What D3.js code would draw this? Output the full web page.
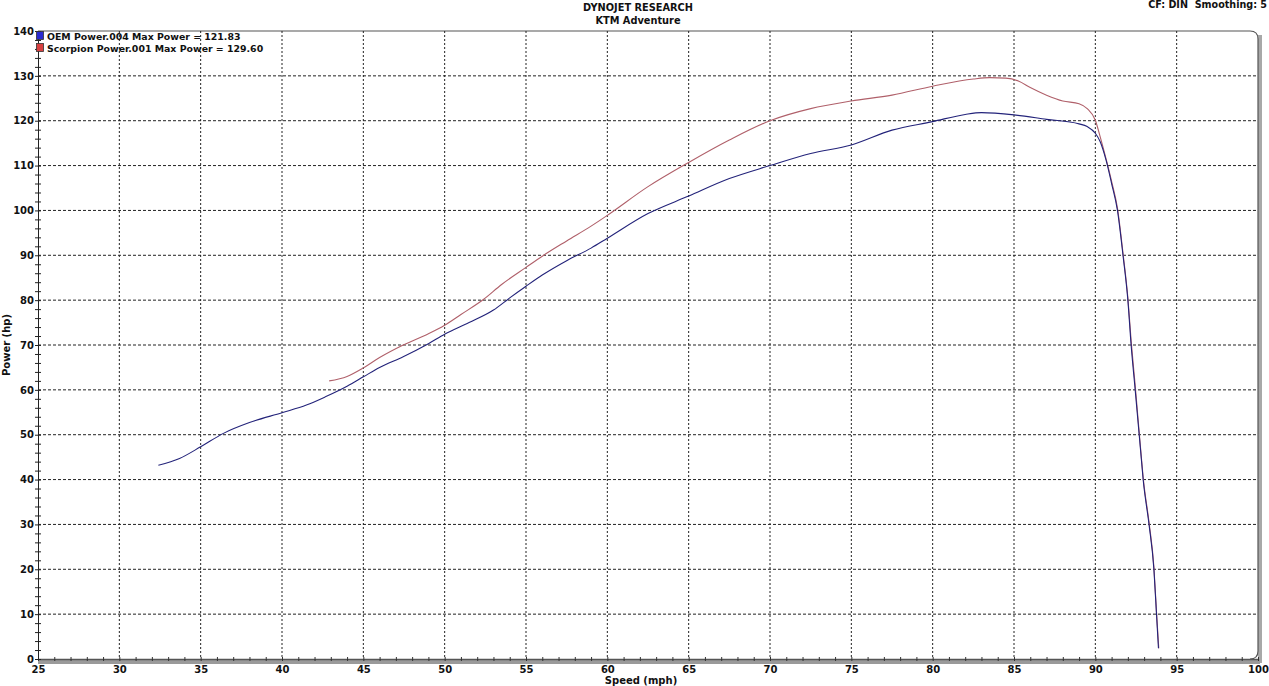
<!DOCTYPE html>
<html><head><meta charset="utf-8">
<script src="https://cdn.jsdelivr.net/npm/d3@7"></script>
<style>
html,body{margin:0;padding:0;background:#fff;}
svg{display:block;font-family:"DejaVu Sans",Verdana,sans-serif;}
text{white-space:pre;}
</style></head>
<body><svg id="c" width="1269" height="686"></svg>
<script>
const titleLines = ["DYNOJET RESEARCH", "KTM Adventure"];
const infoText = "CF: DIN  Smoothing: 5";
const xLabel = "Speed (mph)";
const yLabel = "Power (hp)";
const xTicks = [25,30,35,40,45,50,55,60,65,70,75,80,85,90,95,100];
const yTicks = [0,10,20,30,40,50,60,70,80,90,100,110,120,130,140];
const seriesNames = ["OEM Power.004 Max Power = 121.83", "Scorpion Power.001 Max Power = 129.60"];

const oemSpeed = [32.4,33.7,35,36.4,38,40,41.5,42.7,44,45,46,47.45,49,50,51.5,53,54,55,56,57.5,59,60,62.5,65,67.5,70,72.5,75,77.5,80,82,83,85,87,89,89.5,90,90.3,90.66,91.0,91.36,91.7,92.0,92.2,92.45,92.78,92.94,93.3,93.6,93.76,93.88];
const oemPower = [43.2,44.7,47.3,50.3,52.7,54.9,56.6,58.5,60.8,62.9,65.0,67.4,70.3,72.4,75.0,77.8,80.5,83.1,85.6,88.8,91.6,93.8,99.3,103.2,107.1,110,112.7,114.6,117.9,119.8,121.4,121.8,121.3,120.3,119.3,118.7,117.2,115.3,111.2,106,100,90,80,70,60,46.6,40,30,20,10,2.4];

const scorpionSpeed = [42.9,44,45,46,47.45,49,50,51,52.4,53.5,55,56,57.5,59,60,62.5,65,67.5,70,72.5,75,77.5,80,82.5,83.5,84.5,85.3,86,87,88,89,89.5,90,90.3,90.66,91.0,91.36,91.7,92.0,92.2,92.45,92.78,92.94,93.3,93.6,93.76,93.9];
const scorpionPower = [62.0,63.0,64.9,67.2,70.0,72.5,74.4,76.8,80.2,83.5,87.3,89.8,93.2,96.5,98.9,105.3,110.7,115.7,120,122.7,124.4,125.7,127.7,129.3,129.6,129.5,128.8,127.4,125.7,124.4,123.8,122.7,120.1,116.4,111.5,106.5,100.5,90.5,80.5,71,61,47,40.5,30.5,20.5,10.5,2.4];

const lineColors = ["#23237a", "#b0606a"];
const swatchColors = ["#2a2ad0", "#d84040"];

const svg = d3.select("#c");
const L = 38, R = 1258, T = 31, B = 659;
const x = d3.scaleLinear().domain([25,100]).range([L,R]);
const y = d3.scaleLinear().domain([0,140]).range([B,T]);

// titles
svg.selectAll("text.title").data(titleLines).enter().append("text")
  .attr("x", 638).attr("y", (d,i)=>11+i*13).attr("text-anchor","middle")
  .attr("font-size","9.8px").attr("font-weight","bold").attr("fill","#111").text(d=>d);
svg.append("text").attr("x",1267).attr("y",8).attr("text-anchor","end")
  .attr("font-size","9.6px").attr("font-weight","bold").attr("fill","#111").text(infoText);

// shadow on right
svg.append("rect").attr("x",R).attr("y",T+4).attr("width",4).attr("height",B-T).attr("fill","#a8a8a8");

// frame with rounded top-right corner
svg.append("path").attr("d",
  `M${L},${T} L${R-8},${T} Q${R},${T} ${R},${T+8} L${R},${B-8} Q${R},${B} ${R-8},${B}`)
  .attr("fill","none").attr("stroke","#555").attr("stroke-width",1.2);

// grid
const g = svg.append("g");
g.selectAll("line.vg").data(xTicks.filter(d=>d>25 && d<100)).enter().append("line")
  .attr("x1",d=>x(d)).attr("x2",d=>x(d)).attr("y1",T).attr("y2",B)
  .attr("stroke","#222").attr("stroke-width",1).attr("stroke-dasharray","2,2");
g.selectAll("line.hg").data(yTicks.filter(d=>d>0 && d<140)).enter().append("line")
  .attr("x1",L).attr("x2",R).attr("y1",d=>y(d)).attr("y2",d=>y(d))
  .attr("stroke","#222").attr("stroke-width",1).attr("stroke-dasharray","3,2");

// bottom bar
svg.append("rect").attr("x",L).attr("y",B).attr("width",R-L+2).attr("height",5).attr("fill","#9a9a9a");
svg.append("line").attr("x1",L).attr("x2",R).attr("y1",B+0.5).attr("y2",B+0.5).attr("stroke","#555").attr("stroke-width",1.5);

// x axis
const xAxis = d3.axisBottom(x).tickValues(d3.range(25,101,1)).tickSize(4).tickFormat(d=> d%5===0 ? d : "");
const xa = svg.append("g").attr("transform",`translate(0,${B-2})`).call(xAxis);
xa.select(".domain").remove();
xa.selectAll("line").attr("stroke","#333");
xa.selectAll("text").attr("font-size","10px").attr("font-weight","bold").attr("fill","#111")
  .attr("font-family","DejaVu Sans, Verdana, sans-serif").attr("dy","0.9em");

// y axis
const yAxis = d3.axisLeft(y).tickValues(d3.range(0,141,2)).tickSize(4).tickFormat(d=> d%10===0 ? d : "");
const ya = svg.append("g").attr("transform",`translate(${L},0)`).call(yAxis);
ya.select(".domain").attr("stroke","#222").attr("d",`M0.5,${T}V${B}`);
ya.selectAll(".tick line").attr("x1",3).attr("x2",-3).attr("stroke","#222");
ya.selectAll("text").attr("font-size","10px").attr("font-weight","bold").attr("fill","#111")
  .attr("font-family","DejaVu Sans, Verdana, sans-serif").attr("x",-4);

// axis labels
svg.append("text").attr("x",641).attr("y",684).attr("text-anchor","middle")
  .attr("font-size","10px").attr("font-weight","bold").attr("fill","#111").text(xLabel);
svg.append("text").attr("transform",`translate(10,345) rotate(-90)`).attr("text-anchor","middle")
  .attr("font-size","10px").attr("font-weight","bold").attr("fill","#111").text(yLabel);

// lines
const line = d3.line().x(d=>x(d[0])).y(d=>y(d[1])).curve(d3.curveMonotoneX);
const series = [d3.zip(oemSpeed,oemPower), d3.zip(scorpionSpeed,scorpionPower)];
svg.selectAll("path.s").data([series[1],series[0]]).enter().append("path")
  .attr("d",line).attr("fill","none")
  .attr("stroke",(d,i)=> i===0 ? lineColors[1] : lineColors[0]).attr("stroke-width",1.1);

// legend
const lg = svg.append("g");
seriesNames.forEach((n,i)=>{
  lg.append("rect").attr("x",36.5).attr("y",31.5+i*12).attr("width",7).attr("height",8)
    .attr("fill",swatchColors[i]).attr("stroke","#333").attr("stroke-width",0.8);
  lg.append("text").attr("x",47).attr("y",39.5+i*12).attr("font-size","9.4px").attr("font-weight","bold")
    .attr("fill","#111").text(n);
});
</script></body></html>
